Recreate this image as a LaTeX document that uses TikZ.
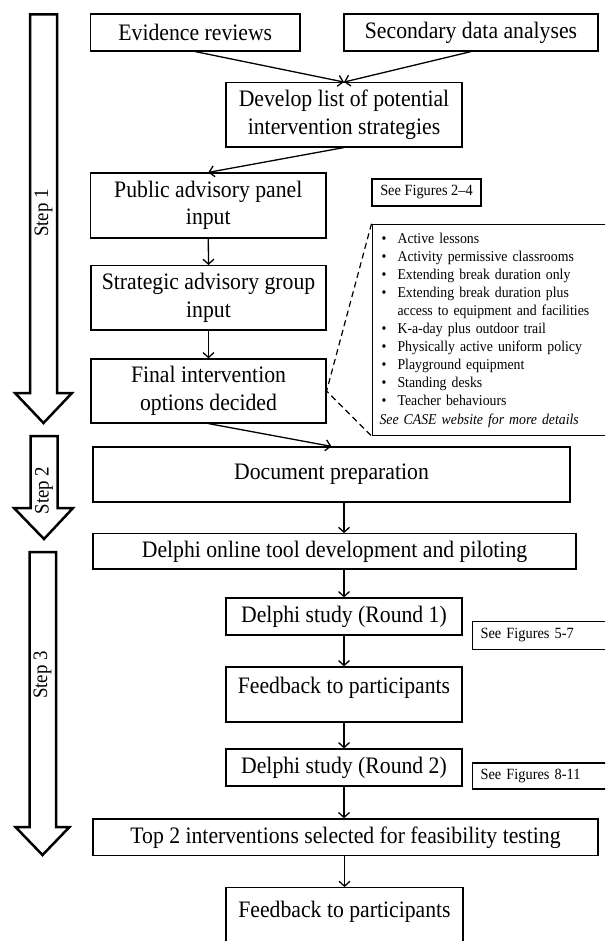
\documentclass[tikz,border=0pt]{standalone}
\usepackage{fontspec}
\setmainfont{Liberation Serif}[FakeStretch=0.92]
\usetikzlibrary{arrows.meta}
\begin{document}
\begin{tikzpicture}[x=1pt,y=-1pt,
  bigfont/.style={font=\fontsize{23.6}{27.5}\selectfont},
  box/.style={draw, line width=1.2pt, inner sep=0pt, align=center, bigfont},
  boxtext/.style={inner sep=0pt, align=center, bigfont},
  small/.style={draw, line width=1.1pt, inner sep=0pt, font=\fontsize{15.6}{18}\selectfont},
  conn/.style={line width=1.3pt, -{Straight Barb[length=5pt,width=11pt]}},
  steparrow/.style={draw, line width=2.5pt, fill=white, line join=miter},
  steplabel/.style={rotate=90, inner sep=0pt, font=\fontsize{20.5}{22}\selectfont}]
\useasboundingbox (0,0) rectangle (605,941);
\clip (0,0) rectangle (605,941);

% step arrows
\draw[steparrow] (30,14.5) -- (57,14.5) -- (57,393) -- (72,393) -- (43.5,423) -- (15,393) -- (30,393) -- cycle;
\draw[steparrow] (30.5,436) -- (57.5,436) -- (57.5,508) -- (73,508) -- (44,539) -- (14,508) -- (30.5,508) -- cycle;
\draw[steparrow] (29.5,552) -- (56,552) -- (56,827) -- (69.5,827) -- (42.5,855) -- (15.5,827) -- (29.5,827) -- cycle;
\node[steplabel] (s1) at (43.5,213) {Step 1};
\node[steplabel] (s2) at (44,490.5) {Step 2};
\node[steplabel] (s3) at (42.5,675) {Step 3};

% main boxes
\node[box, minimum width=209.3pt, minimum height=37pt] (ev) at (195.3,32.5) {Evidence reviews};
\node[box, minimum width=254pt, minimum height=37pt] (sec) at (471,32.5) {Secondary data analyses};
\node[box, minimum width=236pt, minimum height=64.3pt] (dev) at (344,114.8) {Develop list of potential\\intervention strategies};
\node[box, minimum width=235.3pt, minimum height=65pt] (pub) at (208.3,205.5) {Public advisory panel\\input};
\node[box, minimum width=235pt, minimum height=64.3pt] (str) at (208.5,297.8) {Strategic advisory group\\input};
\node[box, minimum width=235pt, minimum height=64pt] (fin) at (208.5,391) {Final intervention\\options decided};
\node[box, minimum width=477pt, minimum height=55pt] (doc) at (331.5,474.5) {Document preparation};
\node[box, minimum width=483pt, minimum height=35.3pt] (onl) at (334.5,551.4) {Delphi online tool development and piloting};
\node[box, minimum width=236pt, minimum height=37pt] (r1) at (344,616.5) {Delphi study (Round 1)};
\node[box, minimum width=236pt, minimum height=55pt] (fb1) at (344,694.5) {};
\node[boxtext] (fb1t) at (344,688) {Feedback to participants};
\node[box, minimum width=236pt, minimum height=37pt] (r2) at (344,767.5) {Delphi study (Round 2)};
\node[box, minimum width=505pt, minimum height=36.7pt] (top2) at (345.5,837.3) {Top 2 interventions selected for feasibility testing};
\node[box, minimum width=237pt, minimum height=56pt] (fb2) at (344.5,915.7) {};
\node[boxtext] (fb2t) at (344.5,912) {Feedback to participants};

% side boxes
\node[small, minimum width=109pt, minimum height=27pt] (f24) at (426.5,192.5) {See Figures 2--4};
\node[small, anchor=west, inner xsep=8.5pt, text width=133pt, align=left, minimum height=27.3pt] (f57) at (471.5,635.4) {See Figures 5-7};
\node[small, anchor=west, inner xsep=8.5pt, text width=133pt, align=left, minimum height=26pt] (f811) at (471.5,776) {See Figures 8-11};

\node[draw, line width=1.1pt, anchor=north west, inner xsep=7.5pt, inner ysep=0pt, text width=235pt, minimum height=211.3pt, align=left, font=\fontsize{15}{18.1}\selectfont] (lst) at (371.5,223.7) {%
\makebox[18pt][l]{\hspace{2pt}\textbullet}Active lessons\\
\makebox[18pt][l]{\hspace{2pt}\textbullet}Activity permissive classrooms\\
\makebox[18pt][l]{\hspace{2pt}\textbullet}Extending break duration only\\
\makebox[18pt][l]{\hspace{2pt}\textbullet}Extending break duration plus\\
\hspace*{18pt}access to equipment and facilities\\
\makebox[18pt][l]{\hspace{2pt}\textbullet}K-a-day plus outdoor trail\\
\makebox[18pt][l]{\hspace{2pt}\textbullet}Physically active uniform policy\\
\makebox[18pt][l]{\hspace{2pt}\textbullet}Playground equipment\\
\makebox[18pt][l]{\hspace{2pt}\textbullet}Standing desks\\
\makebox[18pt][l]{\hspace{2pt}\textbullet}Teacher behaviours\\
\textit{See CASE website for more details}};

% connectors
\draw[conn] (ev.south) -- (dev.north);
\draw[conn] (sec.south) -- (dev.north);
\draw[conn] (dev.south) -- (pub.north);
\draw[conn] (pub.south) -- (str.north);
\draw[conn] (str.south) -- (fin.north);
\draw[conn] (fin.south) -- (doc.north);
\draw[conn] (doc.south -| r1.north) -- (onl.north -| r1.north);
\draw[conn] (onl.south -| r1.north) -- (r1.north);
\draw[conn] (r1.south) -- (fb1.north);
\draw[conn] (fb1.south) -- (r2.north);
\draw[conn] (r2.south) -- (top2.north -| r2.south);
\draw[conn] (top2.south -| fb2.north) -- (fb2.north);
\draw[line width=1.2pt, dash pattern=on 6pt off 4pt] (lst.north west) -- (fin.east) -- (lst.south west);
\end{tikzpicture}
\end{document}
